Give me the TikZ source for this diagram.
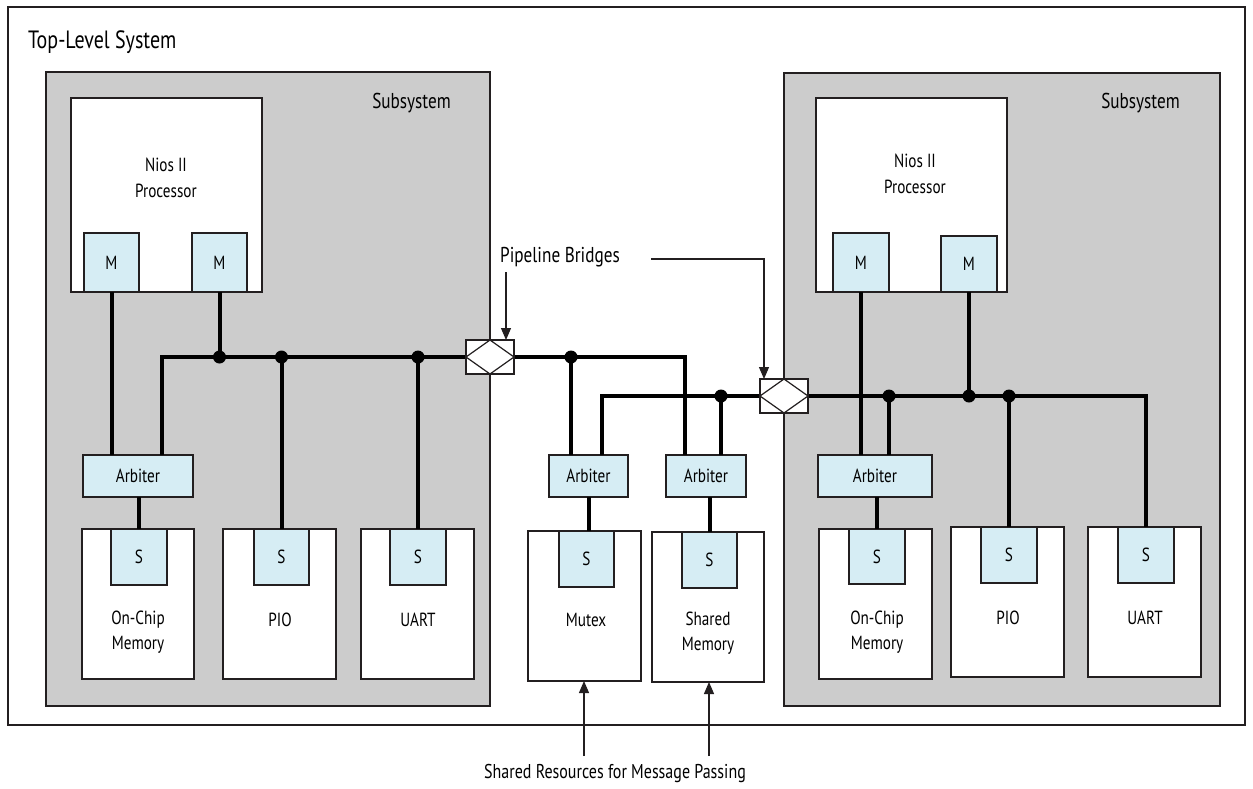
\documentclass[tikz,border=0pt]{standalone}
\usepackage{fontspec}
\setmainfont[FakeStretch=0.8]{PT Sans}
\usetikzlibrary{arrows.meta}
\definecolor{subgray}{HTML}{CCCCCC}
\definecolor{lblue}{HTML}{D6EDF4}
\definecolor{linec}{HTML}{231F20}
\newcommand\topf{\fontsize{25}{30}\selectfont}
\newcommand\bigf{\fontsize{21.5}{26}\selectfont}
\newcommand\srf{\fontsize{20}{24}\selectfont}
\newcommand\smallf{\fontsize{19}{25.5}\selectfont}
\newcommand\bx[6]{\node[#1, minimum width={#4-#2}, minimum height={#5-#3}] (#6) at ({(#2+#4)/2},{(#3+#5)/2}) {};}
\newcommand\bxt[7]{\node[#1, minimum width={#4-#2}, minimum height={#5-#3}] (#6) at ({(#2+#4)/2},{(#3+#5)/2}) {#7};}
\tikzset{
  frame/.style={draw=linec, line width=1.2pt, inner sep=0pt, outer sep=0pt, rectangle},
  sub/.style={frame, fill=subgray},
  wbox/.style={frame, fill=white},
  bbox/.style={frame, fill=lblue, font=\smallf},
  bus/.style={line width=4pt, black},
  jdot/.style={circle, fill=black, minimum size=13pt, inner sep=0pt},
  thin/.style={line width=1.2pt, draw=linec},
  arr/.style={thin, -{Triangle[length=12pt,width=10pt]}},
  lbl/.style={font=\smallf, align=center, inner sep=0pt},
  big/.style={font=\bigf, inner sep=0pt}
}
\begin{document}
\begin{tikzpicture}[x=1pt,y=-1pt]
\useasboundingbox (0,0) rectangle (1253,788);
\fill[white] (0,0) rectangle (1253,788);
% outer system
\bx{frame}{8}{7}{1245}{725}{top}
\node[font=\topf, inner sep=0pt, anchor=west] (toplbl) at (28,42) {Top-Level System};
% subsystems
\bx{sub}{46}{72}{490}{706}{subL}
\bx{sub}{784}{73}{1220}{706}{subR}
\node[big, anchor=east] (subLl) at (451,103) {Subsystem};
\node[big, anchor=east] (subRl) at (1180,103) {Subsystem};
% processors
\bx{wbox}{71}{98}{262}{292}{procL}
\bx{wbox}{816}{98}{1007}{292}{procR}
\node[lbl] (procLl) at (166,178) {Nios II\\Processor};
\node[lbl] (procRl) at (915,174) {Nios II\\Processor};
\bxt{bbox}{84}{233}{139}{292}{mL1}{M}
\bxt{bbox}{192}{233}{247}{292}{mL2}{M}
\bxt{bbox}{833}{233}{889}{292}{mR1}{M}
\bxt{bbox}{941}{236}{997}{292}{mR2}{M}
% arbiters
\bxt{bbox}{83}{455}{193}{497}{arbL}{Arbiter}
\bxt{bbox}{549}{455}{628}{497}{arbMu}{Arbiter}
\bxt{bbox}{666}{455}{746}{497}{arbSh}{Arbiter}
\bxt{bbox}{818}{455}{932}{497}{arbR}{Arbiter}
% slaves left
\bx{wbox}{82}{529}{194}{679}{ocL}
\bx{wbox}{223}{529}{336}{679}{pioL}
\bx{wbox}{361}{529}{474}{679}{uartL}
\bxt{bbox}{111}{529}{167}{585}{sOL}{S}
\bxt{bbox}{254}{529}{309}{585}{sPL}{S}
\bxt{bbox}{390}{529}{446}{585}{sUL}{S}
\node[lbl] (ocLl) at (138,632) {On-Chip\\Memory};
\node[lbl] (pioLl) at (280,620) {PIO};
\node[lbl] (uartLl) at (418,620) {UART};
% shared
\bx{wbox}{528}{531}{641}{681}{mutex}
\bx{wbox}{652}{532}{764}{682}{shm}
\bxt{bbox}{559}{531}{614}{587}{sMu}{S}
\bxt{bbox}{682}{532}{737}{588}{sSh}{S}
\node[lbl] (mutexl) at (586,620) {Mutex};
\node[lbl] (shml) at (708,633) {Shared\\Memory};
% slaves right
\bx{wbox}{819}{529}{932}{679}{ocR}
\bx{wbox}{951}{527}{1064}{677}{pioR}
\bx{wbox}{1088}{527}{1201}{677}{uartR}
\bxt{bbox}{849}{529}{905}{584}{sOR}{S}
\bxt{bbox}{981}{527}{1037}{583}{sPR}{S}
\bxt{bbox}{1118}{527}{1174}{583}{sUR}{S}
\node[lbl] (ocRl) at (877,632) {On-Chip\\Memory};
\node[lbl] (pioRl) at (1008,618) {PIO};
\node[lbl] (uartRl) at (1145,618) {UART};
% bridges (placed before buses for anchors)
\bx{wbox}{466}{340}{514}{374}{b1}
\bx{wbox}{760}{379}{808}{413}{b2}
% junction coordinates
\coordinate (jL) at (162,357);
\coordinate (jM1) at (685,357);
\coordinate (dM1) at (571,357);
\coordinate (jM2) at (602,396);
\coordinate (dM2) at (721,396);
\coordinate (jR) at (1146,396);
\coordinate (dR1) at (889,396);
\coordinate (aMu) at (589,497);
% left buses
\draw[bus] (b1.west) -- (jL) -- (jL |- arbL.north);
\draw[bus] (mL1.south) -- (mL1.south |- arbL.north);
\draw[bus] (mL2.south) -- (mL2.south |- jL);
\draw[bus] (sPL.north |- jL) -- (sPL.north);
\draw[bus] (sUL.north |- jL) -- (sUL.north);
\draw[bus] (arbL.south -| sOL.north) -- (sOL.north);
\node[jdot] (dl1) at (mL2.south |- jL) {};
\node[jdot] (dl2) at (sPL.north |- jL) {};
\node[jdot] (dl3) at (sUL.north |- jL) {};
% middle buses
\draw[bus] (b1.east) -- (jM1) -- (jM1 |- arbSh.north);
\draw[bus] (dM1) -- (dM1 |- arbMu.north);
\draw[bus] (b2.west) -- (jM2) -- (jM2 |- arbMu.north);
\draw[bus] (dM2) -- (dM2 |- arbSh.north);
\draw[bus] (aMu) -- (aMu |- sMu.north);
\draw[bus] (arbSh.south -| sSh.north) -- (sSh.north);
\node[jdot] (dm1) at (dM1) {};
\node[jdot] (dm2) at (dM2) {};
% right buses
\draw[bus] (b2.east) -- (jR) -- (jR |- sUR.north);
\draw[bus] (mR1.south) -- (mR1.south |- arbR.north);
\draw[bus] (mR2.south) -- (mR2.south |- jR);
\draw[bus] (dR1) -- (dR1 |- arbR.north);
\draw[bus] (sPR.north |- jR) -- (sPR.north);
\draw[bus] (arbR.south -| sOR.north) -- (sOR.north);
\node[jdot] (dr1) at (dR1) {};
\node[jdot] (dr2) at (mR2.south |- jR) {};
\node[jdot] (dr3) at (sPR.north |- jR) {};
% bridge diamonds (redraw on top)
\bx{wbox}{466}{340}{514}{374}{b1x}
\bx{wbox}{760}{379}{808}{413}{b2x}
\draw[thin] (b1x.west) -- (b1x.north) -- (b1x.east) -- (b1x.south) -- cycle;
\draw[thin] (b2x.west) -- (b2x.north) -- (b2x.east) -- (b2x.south) -- cycle;
% pipeline bridges label
\node[big, anchor=west] (pb) at (500,257) {Pipeline Bridges};
\coordinate (a1) at (506,272);
\coordinate (a2) at (651,259);
\coordinate (a2e) at (764,259);
\draw[arr] (a1) -- (a1 |- b1x.north);
\draw[arr] (a2) -- (a2e) -- (a2e |- b2x.north);
% shared resources
\node[font=\srf, inner sep=0pt] (sr) at (615,773) {Shared Resources for Message Passing};
\coordinate (r1) at (584,756);
\coordinate (r2) at (709,756);
\draw[arr] (r1) -- (r1 |- mutex.south);
\draw[arr] (r2) -- (r2 |- shm.south);
\end{tikzpicture}
\end{document}
